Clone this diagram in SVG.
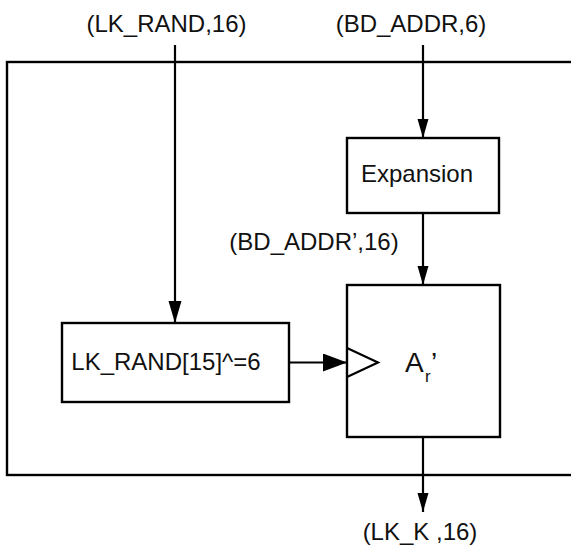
<svg xmlns="http://www.w3.org/2000/svg" width="571" height="546" viewBox="0 0 571 546">
<style>
.box{fill:#fff;stroke:#000;stroke-width:2.4}
.ln{fill:none;stroke:#000;stroke-width:2.2}
.t{font-family:"Liberation Sans",Arial,Helvetica,sans-serif;font-size:24px;fill:#111;text-anchor:middle}
</style>
<defs>
<marker id="ahS" markerUnits="userSpaceOnUse" markerWidth="20" markerHeight="12" refX="19" refY="6" orient="auto" viewBox="0 0 20 12">
<path d="M0,0.5 L19,6 L0,11.5 Z" fill="#000"/>
</marker>
<marker id="ahM" markerUnits="userSpaceOnUse" markerWidth="23" markerHeight="14" refX="22" refY="7" orient="auto" viewBox="0 0 23 14">
<path d="M0,0.5 L22,7 L0,13.5 Z" fill="#000"/>
</marker>
<marker id="ahL" markerUnits="userSpaceOnUse" markerWidth="25" markerHeight="18" refX="24" refY="9" orient="auto" viewBox="0 0 25 18">
<path d="M0,0 L24,9 L0,18 Z" fill="#000"/>
</marker>
</defs>
<rect id="frame" class="box" x="7" y="62" width="570" height="413" fill="none" style="fill:none"/>
<g id="expansion">
<rect class="box" x="347" y="138" width="152" height="75"/>
<text class="t" x="417" y="182">Expansion</text>
</g>
<g id="lkrand">
<rect class="box" x="62" y="323" width="227" height="79"/>
<text class="t" x="166" y="370">LK_RAND[15]^=6</text>
</g>
<g id="ar">
<rect class="box" x="347" y="285" width="153" height="152"/>
<path class="ln" d="M347,348 L378,362.5 L347,377"/>
<text style="font-family:'Liberation Sans',Arial,Helvetica,sans-serif;fill:#111" font-size="28"><tspan x="405" y="372">A</tspan><tspan x="425" y="382" font-size="17">r</tspan><tspan x="431" y="372">’</tspan></text>
</g>
<g id="connectors">
<line class="ln" x1="175" y1="45" x2="175" y2="323" marker-end="url(#ahM)"/>
<line class="ln" x1="423" y1="45" x2="423" y2="138" marker-end="url(#ahS)"/>
<line class="ln" x1="423" y1="213" x2="423" y2="285" marker-end="url(#ahS)"/>
<line class="ln" x1="289" y1="362.5" x2="347" y2="362.5" marker-end="url(#ahL)"/>
<line class="ln" x1="423" y1="437" x2="423" y2="512" marker-end="url(#ahS)"/>
</g>
<g id="labels">
<text class="t" x="166.5" y="32">(LK_RAND,16)</text>
<text class="t" x="411" y="32">(BD_ADDR,6)</text>
<text class="t" x="314" y="250">(BD_ADDR’,16)</text>
<text class="t" x="420" y="540">(LK_K ,16)</text>
</g>
</svg>
